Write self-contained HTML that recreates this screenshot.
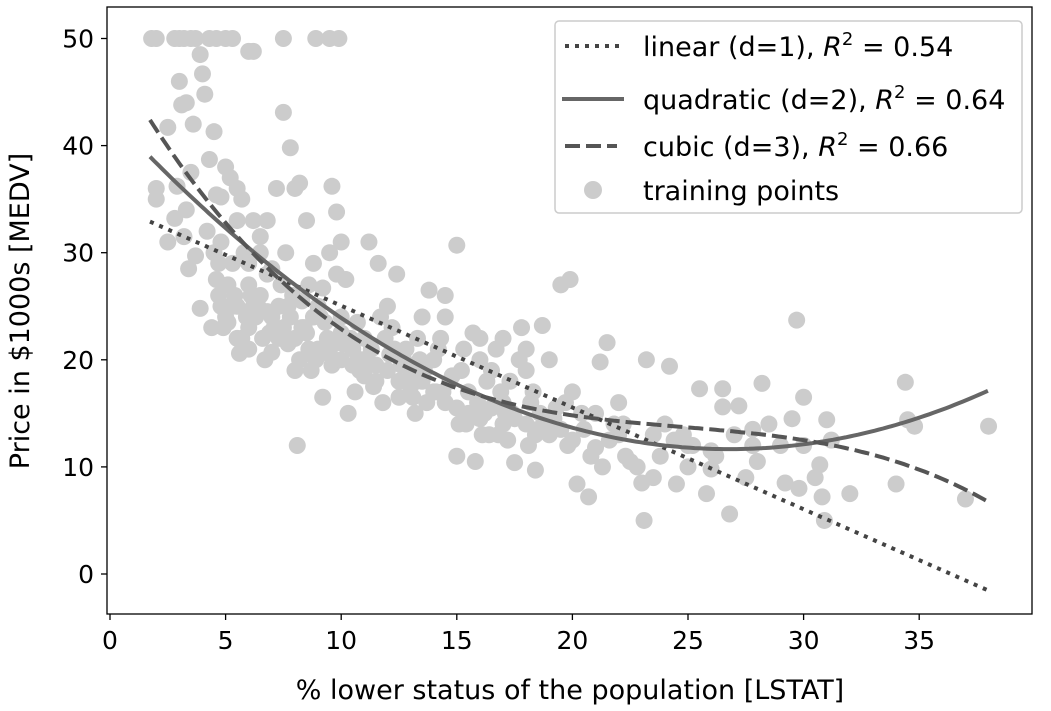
<!DOCTYPE html>
<html><head><meta charset="utf-8">
<style>
html,body{margin:0;padding:0;background:#fff;}
svg{display:block;font-family:"DejaVu Sans","Liberation Sans",sans-serif;}
</style></head>
<body>
<svg id="chart" width="1051" height="711" viewBox="0 0 1051 711">
<rect x="0" y="0" width="1051" height="711" fill="#fff"/>
<g id="pts"></g>
<g id="lines"></g>
<rect x="107" y="7" width="925" height="607" fill="none" stroke="#000" stroke-width="1.3"/>
<g id="xt"></g>
<g id="yt"></g>
<text x="570" y="699" font-size="27" text-anchor="middle">% lower status of the population [LSTAT]</text>
<text transform="translate(29,311) rotate(-90)" font-size="27" text-anchor="middle">Price in $1000s [MEDV]</text>
<g>
<rect x="555" y="21" width="467" height="192" rx="4" fill="#fff" fill-opacity="0.85" stroke="#ccc" stroke-width="1.5"/>
<line x1="565" y1="46" x2="625" y2="46" stroke="#444" stroke-width="4" stroke-dasharray="4,6"/>
<text x="643" y="56" font-size="27">linear (d=1), <tspan font-style="italic">R</tspan><tspan font-size="18" dy="-11">2</tspan><tspan dy="11" xml:space="preserve"> = 0.54</tspan></text>
<line x1="562" y1="99" x2="624" y2="99" stroke="#666" stroke-width="4"/>
<text x="643" y="109" font-size="27">quadratic (d=2), <tspan font-style="italic">R</tspan><tspan font-size="18" dy="-11">2</tspan><tspan dy="11" xml:space="preserve"> = 0.64</tspan></text>
<line x1="565" y1="146" x2="617" y2="146" stroke="#555" stroke-width="4" stroke-dasharray="15,6"/>
<text x="643" y="156" font-size="27">cubic (d=3), <tspan font-style="italic">R</tspan><tspan font-size="18" dy="-11">2</tspan><tspan dy="11" xml:space="preserve"> = 0.66</tspan></text>
<circle cx="593" cy="190" r="9" fill="#cccccc"/>
<text x="643" y="200" font-size="27">training points</text>
</g>
</svg>
<script>
const xTicks=[0,5,10,15,20,25,30,35];
const yTicks=[0,10,20,30,40,50];
const linCoef=[34.55,-0.95];
const quadCoef=[42.86,-2.33,0.0435];
const cubCoef=[48.65,-3.866,0.1487,-0.0020];
const xMin=1.73, xMax=37.97;
const ptX=[1.8,2.0,2.8,3.0,3.2,3.5,3.7,4.3,4.6,5.0,5.3,6.0,7.5,8.9,9.5,9.9,
2.0,2.5,2.9,3.0,3.1,3.3,3.5,3.6,3.9,4.0,4.1,4.3,4.5,4.6,4.8,5.0,5.2,5.5,5.7,6.2,6.5,6.8,7.2,7.5,7.8,8.0,8.2,8.5,9.2,9.6,9.8,
2.8,3.2,3.4,3.7,3.9,4.2,4.5,4.7,4.9,5.1,5.3,5.5,5.6,5.8,6.0,6.3,6.6,6.8,7.0,7.3,7.6,7.9,8.0,8.1,8.3,8.6,8.8,9.0,9.2,9.4,9.6,9.8,10,10.2,10.3,10.5,10.8,11,11.2,11.5,11.6,11.8,12,12.2,12.5,12.8,13,13.2,13.5,13.8,14,14.3,14.5,14.7,15,15,15.3,15.5,15.8,16,16.2,16.5,16.8,17,17.3,17.5,17.8,18,18.2,18.4,18.7,19,19.3,19.5,19.9,20,20.2,20.5,20.7,21,21.2,21.5,21.3,21.8,22,22.3,22.5,23,23.1,23.2,23.5,23.8,24,24.2,24.5,25,25.5,25.8,26,26.5,26.5,26.8,27.2,27.8,28,28.2,29,29.5,29.7,29.8,30,30.5,30.7,30.8,30.9,31,31.2,32,34,34.4,34.5,34.8,37,38,
5,5.5,6,6.2,6.5,7,7.5,8,8.5,9,9.5,10,10.5,11,11.5,12,12.5,13,13.5,14,14.5,15,15.5,16,16.5,17,17.5,18,18.5,19,19.5,20,
5.3,6,6.5,7,4.7,4.8,5.5,6.2,4.4,4.8,6,6.8,7.3,7.8,8.3,8.7,9.3,10,10.7,11.3,11.7,12.3,12.7,13.3,13.7,14.2,15.2,15.7,16.3,16.7,17.2,17.7,18.3,19,19.7,20.4,21,22.2,24.8,26,27,28.5,2,2.5,3.3,8.6,9.5,10,12.4,14.5,16,17,18,22,23.5,25,27.5,30,
4.6,5.1,5.4,5.9,6.4,6.9,7.4,7.7,8.4,8.9,9.1,9.7,10.4,10.9,11.4,12.1,12.6,13.1,13.6,14.1,14.8,15.4,15.9,16.4,16.9,17.4,18.1,18.6,19.2,19.8,20.8,21.6,22.8,24.4,25.2,26.2,27.8,29.2,
5.2,5.7,6.1,6.7,7.1,7.7,8.2,8.8,9.4,10.1,10.6,11.1,11.9,12.9,13.4,14.4,15.1,16.1,17.1,18.4];
const ptY=[50,50,50,50,50,50,50,50,50,50,50,48.8,50,50,50,50,
35,41.7,36.2,46,43.8,44,37.5,42,48.5,46.7,44.8,38.7,41.3,35.4,35.2,38,37,36,35,48.8,31.5,33,36,43.1,39.8,36,36.5,33,26.7,36.2,33.8,
33.2,31.5,28.5,29.7,24.8,32,30,29,23,27,25,22,20.6,30,27,24,22,28,20.7,25,30,26,19,12,23,21,29,25,16.5,22,19.5,28,24,27.5,15,21,19,22,31,19.5,29,16,25,23,16.5,21,19,15,24,26.5,20,22,24,18,11,30.7,21,17,10.5,22,15,19,13,16,18,10.4,23,19,16,9.7,23.2,14,15.5,27,27.5,17,8.4,13.5,7.2,15,19.8,21.6,10,14,13,11,10.5,8.5,5,20,13,11,14,19.4,8.4,12,17.3,7.5,9.8,17.3,15.6,5.6,15.7,13.5,10.5,17.8,12,14.5,23.7,8,16.5,9,10.2,7.2,5,14.4,12.5,7.5,8.4,17.9,14.4,13.8,7,13.8,
24,25,23,25,26,24,23,22,22.5,21,20.5,20,19.5,18.5,18,19,18,17.5,18,17,16,15.5,15,14.5,15.5,14,14.5,14,13.5,13,13.5,12.5,
29,29,30,28.5,26,31,33,33,23,25,21,24.5,22,24,25.5,19,23.5,22.5,23.5,21,24,21,20,22,16,21,19,22.5,18,21,12.5,20,17,20,16,15,11.8,14,13,11.5,13,14,36,31,34,27,30,31,28,26,20,22,21,16,9,10,9,12,
27.5,23.5,26,24,25,22.5,27,21.5,23,20,24,21.5,22,20,17.5,20.5,19.5,16.5,19,17,18.5,14,16,13,17,15,12,15,14.5,12,11,12.5,10,12.5,12,11,12,8.5,
25,22,26,20,23,25,20,24,21,21.5,17,20,22,18,20,17,14,13,15,13];
const X=v=>110+v*23.12;
const Y=v=>574-v*10.71;
const NS='http://www.w3.org/2000/svg';
const pts=document.getElementById('pts');
for(let i=0;i<ptX.length;i++){
  const c=document.createElementNS(NS,'circle');
  c.setAttribute('cx',X(ptX[i]));c.setAttribute('cy',Y(ptY[i]));c.setAttribute('r',8.5);c.setAttribute('fill','#cccccc');
  
  
  pts.appendChild(c);
}
function poly(c,x){let s=0;for(let i=c.length-1;i>=0;i--)s=s*x+c[i];return s;}
function addLine(coef,stroke,dash,name){
  let d='';for(let i=0;i<=200;i++){const x=xMin+(xMax-xMin)*i/200;d+=(i?'L':'M')+X(x).toFixed(1)+','+Y(poly(coef,x)).toFixed(1);}
  const p=document.createElementNS(NS,'path');
  p.setAttribute('d',d);p.setAttribute('fill','none');p.setAttribute('stroke',stroke);p.setAttribute('stroke-width',4);
  if(dash)p.setAttribute('stroke-dasharray',dash);
  
  
  document.getElementById('lines').appendChild(p);
}
addLine(linCoef,'#444','4,6','linear-fit-line');
addLine(quadCoef,'#666',null,'quadratic-fit-line');
addLine(cubCoef,'#555','15,6','cubic-fit-line');
const xt=document.getElementById('xt');
xTicks.forEach(t=>{
  const l=document.createElementNS(NS,'line');
  l.setAttribute('x1',X(t));l.setAttribute('x2',X(t));l.setAttribute('y1',614);l.setAttribute('y2',620);l.setAttribute('stroke','#000');l.setAttribute('stroke-width',1.3);
  
  
  xt.appendChild(l);
  const tx=document.createElementNS(NS,'text');
  tx.setAttribute('x',X(t));tx.setAttribute('y',649);tx.setAttribute('font-size',25);tx.setAttribute('text-anchor','middle');tx.textContent=t;
  
  
  xt.appendChild(tx);
});
const yt=document.getElementById('yt');
yTicks.forEach(t=>{
  const l=document.createElementNS(NS,'line');
  l.setAttribute('x1',101);l.setAttribute('x2',107);l.setAttribute('y1',Y(t));l.setAttribute('y2',Y(t));l.setAttribute('stroke','#000');l.setAttribute('stroke-width',1.3);
  
  
  yt.appendChild(l);
  const tx=document.createElementNS(NS,'text');
  tx.setAttribute('x',94);tx.setAttribute('y',Y(t)+9);tx.setAttribute('font-size',25);tx.setAttribute('text-anchor','end');tx.textContent=t;
  
  
  yt.appendChild(tx);
});
</script>
</body></html>
